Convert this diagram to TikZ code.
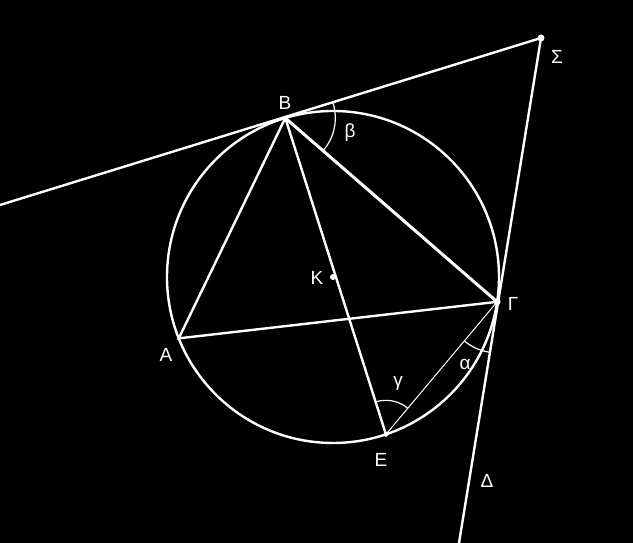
\documentclass[tikz,border=0pt]{standalone}
\usepackage{fontspec}
\setmainfont{Liberation Sans}
\usepackage{tikz}
\usetikzlibrary{angles}

\begin{document}
\begin{tikzpicture}[x=1pt, y=1pt,
    line/.style={white, line width=2.4pt},
    thinline/.style={white, line width=1pt},
    arc/.style={draw=white, line width=1.2pt},
    dot/.style={circle, fill=white, inner sep=0pt, minimum size=#1},
    lbl/.style={text=white, font=\fontsize{19}{22}\selectfont, inner sep=0pt}]

    % Background
    \fill [black] (0,0) rectangle (633,543);
    \useasboundingbox (0,0) rectangle (633,543);

    % Points
    \coordinate (K) at (333,266);
    \coordinate (B) at ([shift={(106.7:166)}]K);
    \coordinate (G) at ([shift={(-8.6:166)}]K);
    \coordinate (A) at ([shift={(201.7:166)}]K);
    \coordinate (E) at ([shift={(-71.4:166)}]K);
    \coordinate (S) at (541,505);
    \coordinate (T) at (0,338);
    \coordinate (D) at (459,0);

    % Angles
    \pic [arc, angle radius=50pt] {angle=G--B--S};
    \pic [arc, angle radius=34pt] {angle=G--E--B};
    \pic [arc, angle radius=51pt] {angle=E--G--D};

    % Lines
    \draw [line] (K) circle (166);
    \draw [line] (T) -- (S) -- (D);
    \draw [line] (B) -- (A) -- (G);
    \draw [line] (B) -- (E);
    \draw [white, line width=3pt] (B) -- (G);
    \draw [thinline] (G) -- (E);

    % Dots
    \node [dot=7pt] (s) at (S) {};
    \node [dot=6pt] (k) at (K) {};
    \node [dot=7pt] (g) at (G) {};
    \node [dot=5pt] (e) at (E) {};
    \node [dot=4pt] (b) at (B) {};

    % Labels
    \node [lbl] (lB) at (285,440) {Β};
    \node [lbl] (lS) at (557,486) {Σ};
    \node [lbl] (lbeta) at (350,410) {β};
    \node [lbl] (lK) at (317,265) {Κ};
    \node [lbl] (lG) at (513,239) {Γ};
    \node [lbl] (lA) at (166,188) {Α};
    \node [lbl] (lE) at (381,83) {Ε};
    \node [lbl] (lgamma) at (398,160) {γ};
    \node [lbl] (lalpha) at (465,179) {α};
    \node [lbl] (lD) at (487,62) {Δ};

\end{tikzpicture}
\end{document}
